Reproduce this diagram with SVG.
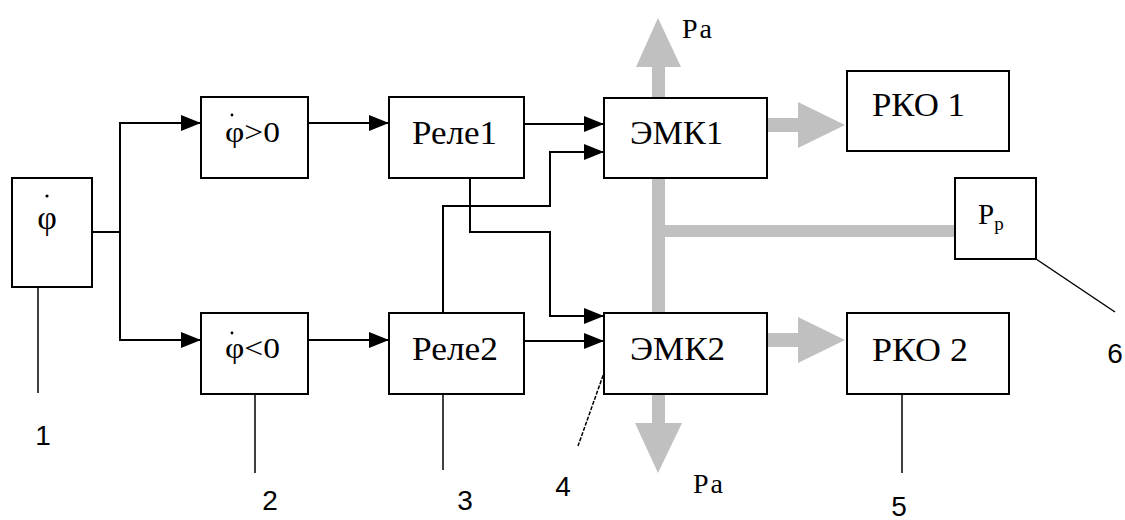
<svg xmlns="http://www.w3.org/2000/svg" width="1125" height="520" viewBox="0 0 1125 520">
<defs>
<style>
.box{fill:#fff;stroke:#000;stroke-width:2}
.ln{fill:none;stroke:#000;stroke-width:2}
.arr{fill:none;stroke:#000;stroke-width:2;marker-end:url(#ah)}
.g{fill:#c0c0c0;stroke:none}
.t{font-family:'Liberation Serif','DejaVu Serif',serif;font-size:34px;fill:#000}
.s28{font-size:29px}
.s22{font-size:28px;letter-spacing:2px}
.n{font-family:'Liberation Sans','DejaVu Sans',sans-serif;font-size:28px;fill:#000}
.lead{fill:none;stroke:#000;stroke-width:1.5}
</style>
<marker id="ah" markerUnits="userSpaceOnUse" markerWidth="20" markerHeight="16" refX="20" refY="8" orient="auto">
<path d="M0,0 L20,8 L0,16 Z" fill="#000"/>
</marker>
</defs>
<rect width="1125" height="520" fill="#fff"/>

<g id="connectors">
<rect class="g" x="652" y="178" width="13" height="135"/>
<rect class="g" x="658" y="225" width="297" height="12"/>
<polygon class="g" points="652,98 652,67 636,67 658,18 681,67 665,67 665,98"/>
<polygon class="g" points="652,394 652,423 635,423 658,473 682,423 665,423 665,394"/>
<polygon class="g" points="767,118 798,118 798,102 845,125 798,148 798,132 767,132"/>
<polygon class="g" points="767,333 798,333 798,317 845,340 798,363 798,347 767,347"/>
<polyline class="ln" points="92,232 120,232"/>
<polyline class="arr" points="120,232 120,123 201,123"/>
<polyline class="arr" points="120,232 120,340 201,340"/>
<line class="arr" x1="308" y1="123" x2="389" y2="123"/>
<line class="arr" x1="308" y1="340" x2="389" y2="340"/>
<line class="arr" x1="524" y1="124" x2="604" y2="124"/>
<line class="arr" x1="524" y1="341" x2="604" y2="341"/>
<polyline class="arr" points="443,313 443,206 550,206 550,152 604,152"/>
<polyline class="arr" points="470,178 470,232 550,232 550,316 604,316"/>
<line class="lead" x1="38" y1="287" x2="38" y2="393"/>
<line class="lead" x1="255" y1="394" x2="255" y2="473"/>
<line class="lead" x1="443" y1="394" x2="443" y2="470"/>
<line class="lead" x1="605" y1="370" x2="578" y2="446" stroke-dasharray="4,1.5"/>
<line class="lead" x1="902" y1="394" x2="902" y2="473"/>
<line class="lead" x1="1036" y1="259" x2="1115" y2="312"/>
</g>

<g id="phi">
<rect class="box" x="12" y="178" width="80" height="109"/>
<circle cx="47" cy="196" r="1.6" fill="#000"/>
<text class="t" x="47" y="229" text-anchor="middle">φ</text>
</g>
<g id="phi_pos">
<rect class="box" x="201" y="97" width="107" height="81"/>
<circle cx="232" cy="115" r="1.4" fill="#000"/>
<text class="t s28" x="225" y="142" textLength="55" lengthAdjust="spacingAndGlyphs">φ&gt;0</text>
</g>
<g id="phi_neg">
<rect class="box" x="201" y="313" width="107" height="81"/>
<circle cx="232" cy="333" r="1.4" fill="#000"/>
<text class="t s28" x="225" y="358" textLength="55" lengthAdjust="spacingAndGlyphs">φ&lt;0</text>
</g>
<g id="rele1">
<rect class="box" x="389" y="97" width="135" height="81"/>
<text class="t" x="412" y="144" textLength="85" lengthAdjust="spacingAndGlyphs">Реле1</text>
</g>
<g id="rele2">
<rect class="box" x="389" y="313" width="135" height="81"/>
<text class="t" x="412" y="360" textLength="86" lengthAdjust="spacingAndGlyphs">Реле2</text>
</g>
<g id="emk1">
<rect class="box" x="604" y="98" width="163" height="80"/>
<text class="t" x="630" y="144" textLength="93" lengthAdjust="spacingAndGlyphs">ЭМК1</text>
</g>
<g id="emk2">
<rect class="box" x="604" y="313" width="163" height="81"/>
<text class="t" x="630" y="360" textLength="95" lengthAdjust="spacingAndGlyphs">ЭМК2</text>
</g>
<g id="rko1">
<rect class="box" x="847" y="71" width="162" height="80"/>
<text class="t" x="872" y="116" textLength="93" lengthAdjust="spacingAndGlyphs">РКО 1</text>
</g>
<g id="rko2">
<rect class="box" x="847" y="313" width="162" height="81"/>
<text class="t" x="872" y="361" textLength="96" lengthAdjust="spacingAndGlyphs">РКО 2</text>
</g>
<g id="pr">
<rect class="box" x="955" y="178" width="81" height="81"/>
<text class="t s28" x="978" y="224">Р<tspan font-size="19" dy="6">р</tspan></text>
</g>
<g id="labels">
<text class="t s22" x="682" y="38">Ра</text>
<text class="t s22" x="693" y="493">Ра</text>
<text class="n" x="43" y="445" text-anchor="middle">1</text>
<text class="n" x="270" y="510" text-anchor="middle">2</text>
<text class="n" x="465" y="510" text-anchor="middle">3</text>
<text class="n" x="563" y="496" text-anchor="middle">4</text>
<text class="n" x="899" y="516" text-anchor="middle">5</text>
<text class="n" x="1115" y="363" text-anchor="middle">6</text>
</g>
</svg>
